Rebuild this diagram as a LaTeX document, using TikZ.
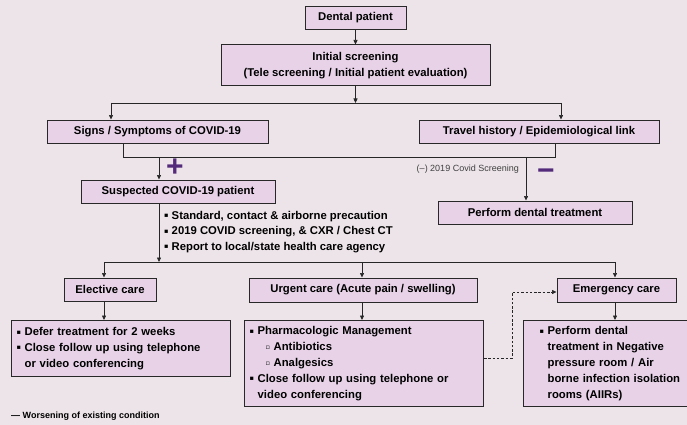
\documentclass[tikz,border=0pt]{standalone}
\usepackage{fontspec}
\setmainfont{Liberation Sans}
\newfontfamily\symfont{DejaVu Sans}
\usepackage{xcolor}
\usetikzlibrary{arrows.meta,positioning,calc}

\definecolor{bgpink}{RGB}{237,228,233}
\definecolor{boxlilac}{RGB}{231,210,231}
\definecolor{edgegray}{RGB}{40,40,40}
\definecolor{signpurple}{RGB}{84,42,122}
\newcommand{\bsq}{\raisebox{1.6pt}{\symfont\fontsize{6.5}{6.5}\selectfont ▪}}
\newcommand{\wsq}{\raisebox{1.4pt}{\symfont\fontsize{6.5}{6.5}\selectfont ▫}}
\newcommand{\hang}{\phantom{\bsq\ }}
\newcommand{\ind}{\hspace*{14pt}}

\begin{document}
\begin{tikzpicture}[x=1pt, y=-1pt,
    box/.style={draw=edgegray, line width=1pt, fill=boxlilac, inner sep=0pt,
        font=\fontsize{11.3}{16}\selectfont\bfseries, align=center},
    detail/.style={box, align=left, anchor=north west, inner xsep=5pt,
        font=\fontsize{11.3}{15.8}\selectfont\bfseries},
    conn/.style={draw=black!85, line width=0.7pt},
    arr/.style={conn, -{Triangle[length=4.5pt,width=4pt]}},
    dasharr/.style={arr, dash pattern=on 2.5pt off 1.8pt},
    sign/.style={text=signpurple, inner sep=0pt, font=\fontsize{30}{30}\selectfont\bfseries},
]
\path[use as bounding box, fill=bgpink] (0,0) rectangle (687,425);

% screening
\node[box, minimum width=101pt, minimum height=23pt] (dental) at (355.5,18) {Dental patient};
\node[box, minimum width=269pt, minimum height=41pt] (init) at (355.5,65.5)
    {Initial screening\\(Tele screening / Initial patient evaluation)};
\node[box, minimum width=221pt, minimum height=23pt] (signs) at (157.5,131.5) {Signs / Symptoms of COVID-19};
\node[box, minimum width=240pt, minimum height=23pt] (travel) at (539,131.5) {Travel history / Epidemiological link};
\node[box, minimum width=194pt, minimum height=23pt] (suspect) at (178,191.5) {Suspected COVID-19 patient};
\node[box, minimum width=194pt, minimum height=23pt] (perform) at (535,212.5) {Perform dental treatment};

\node[sign] (plus) at (175,167.5) {+};
\node[sign] (minus) at (546,175) {−};
\node[anchor=east, inner sep=0pt, text=black!75, font=\fontsize{9}{11}\selectfont] (negscr) at (519,169)
    {(–) 2019 Covid Screening};
\node[anchor=west, inner sep=0pt, align=left, font=\fontsize{11.3}{15.5}\selectfont\bfseries] (precaut) at (164,232)
    {\bsq\ Standard, contact \& airborne precaution\\
     \bsq\ 2019 COVID screening, \& CXR / Chest CT\\
     \bsq\ Report to local/state health care agency};

% care levels
\node[box, minimum width=92pt, minimum height=23pt] (elective) at (110,289.5) {Elective care};
\node[box, minimum width=228pt, minimum height=24pt] (urgent) at (363,290) {Urgent care (Acute pain / swelling)};
\node[box, minimum width=119pt, minimum height=24pt] (emerg) at (616.5,290) {Emergency care};

\node[detail, text width=209pt, minimum height=56pt] (electdet) at (11,320)
    {\bsq\ Defer treatment for 2 weeks\\
     \bsq\ Close follow up using telephone\\
     \hang or video conferencing};
\node[detail, text width=229pt, minimum height=86pt] (urgdet) at (244,320)
    {\bsq\ Pharmacologic Management\\
     \hspace*{16pt}\wsq\ Antibiotics\\
     \hspace*{16pt}\wsq\ Analgesics\\
     \bsq\ Close follow up using telephone or\\
     \hang video conferencing};
\node[detail, inner xsep=2pt, text width=163pt, minimum height=86pt] (emergdet) at (523,320)
    {\ind\bsq\ Perform dental\\
     \ind\hang treatment in Negative\\
     \ind\hang pressure room / Air\\
     \ind\hang borne infection isolation\\
     \ind\hang rooms (AIIRs)};

\node[anchor=west, inner sep=0pt, font=\fontsize{9}{11}\selectfont\bfseries] (legend) at (11,416)
    {--- Worsening of existing condition};

% connectors
\coordinate (split1) at (355.5,103);
\coordinate (lbar) at (111,103);
\coordinate (rbar) at (561,103);
\draw[arr] (dental) -- (init);
\draw[arr] (init) -- (split1);
\draw[conn] (lbar) -- (rbar);
\draw[arr] (lbar) -- (lbar |- signs.north);
\draw[arr] (rbar) -- (rbar |- travel.north);

\coordinate (mleft) at (123,157);
\coordinate (mright) at (555,157);
\coordinate (tosuspect) at (159,157);
\coordinate (toperform) at (526,157);
\draw[conn] (signs.south -| mleft) -- (mleft) -- (mright) -- (travel.south -| mright);
\draw[arr] (tosuspect) -- (tosuspect |- suspect.north);
\draw[arr] (toperform) -- (toperform |- perform.north);

\coordinate (split2) at (159,262);
\coordinate (b2l) at (104,262);
\coordinate (b2m) at (362,262);
\coordinate (b2r) at (615,262);
\draw[arr] (suspect.south -| split2) -- (split2);
\draw[conn] (b2l) -- (b2r);
\draw[arr] (b2l) -- (b2l |- elective.north);
\draw[arr] (b2m) -- (b2m |- urgent.north);
\draw[arr] (b2r) -- (b2r |- emerg.north);
\draw[arr] (elective.south -| b2l) -- (electdet.north -| b2l);
\draw[arr] (urgent.south -| b2m) -- (urgdet.north -| b2m);
\draw[arr] (emerg.south -| b2r) -- (emergdet.north -| b2r);

\coordinate (worse) at (512,358);
\coordinate (worsetop) at (512,292);
\draw[dasharr] (urgdet.east |- worse) -- (worse) -- (worsetop) -- (emerg.west |- worsetop);
\end{tikzpicture}
\end{document}
